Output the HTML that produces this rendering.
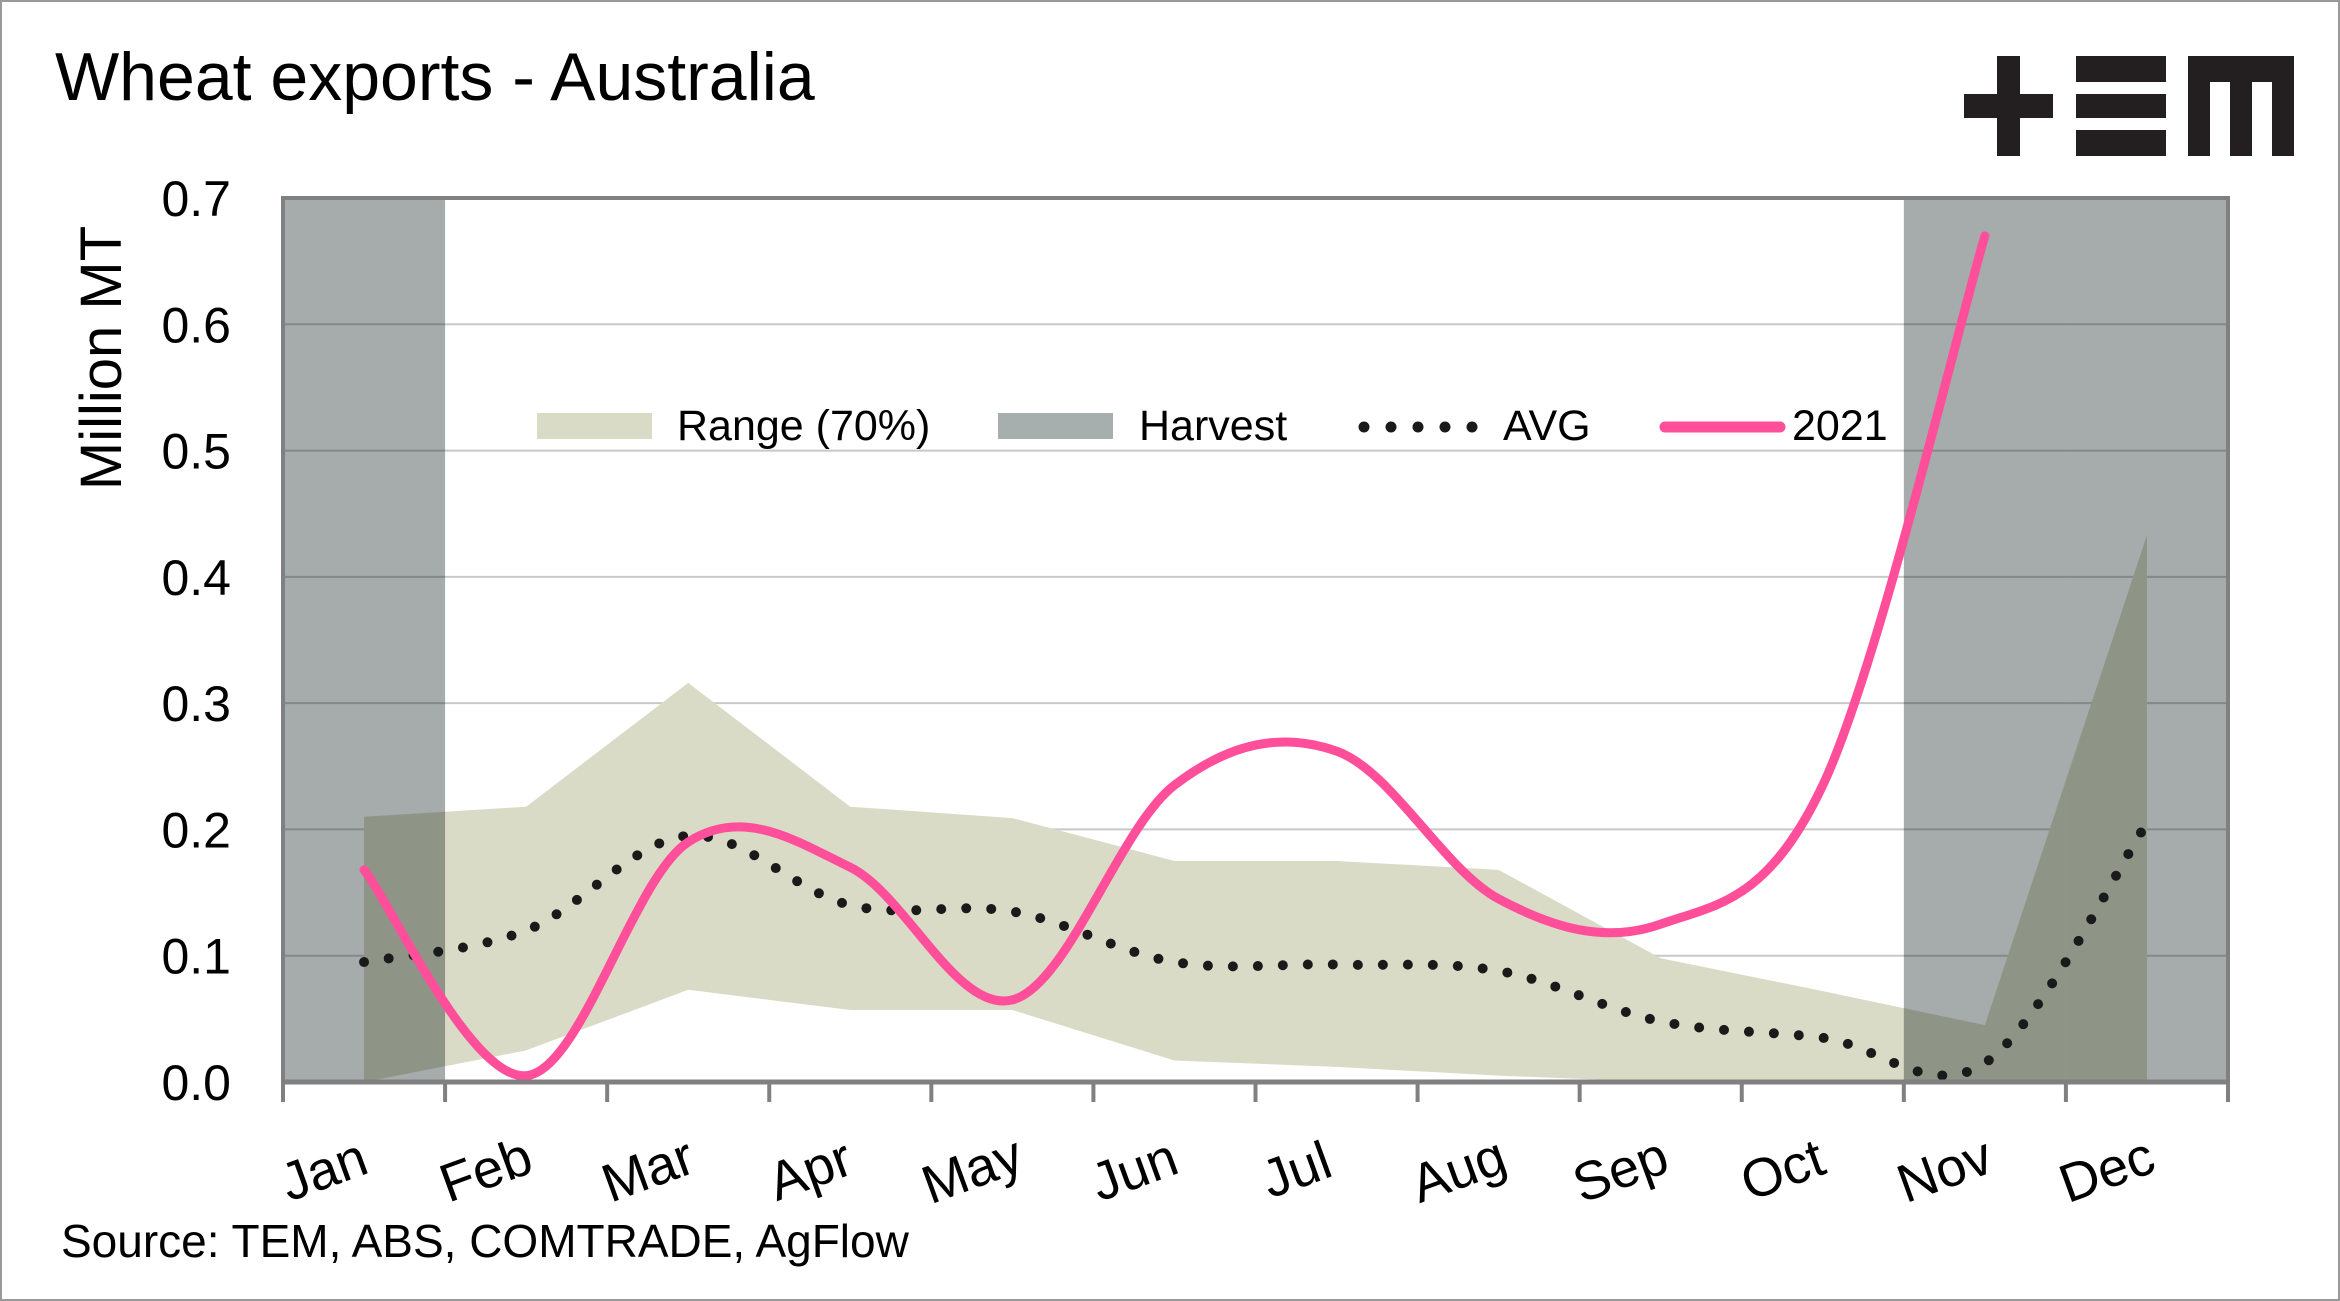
<!DOCTYPE html>
<html><head><meta charset="utf-8"><style>
html,body{margin:0;padding:0;background:#fff}
svg{display:block}
text{font-family:"Liberation Sans",sans-serif;fill:#000}
</style></head><body>
<svg id="chart" width="2340" height="1301" viewBox="0 0 2340 1301">
<rect x="1" y="1" width="2338" height="1299" fill="#fff" stroke="#999" stroke-width="2"/>
<text x="55" y="100" font-size="68">Wheat exports - Australia</text>
<g fill="#231f20">
<rect x="1964" y="94" width="89" height="24"/><rect x="1997" y="56" width="23" height="100"/>
<rect x="2076" y="56" width="90" height="26"/><rect x="2076" y="94" width="90" height="24"/><rect x="2076" y="130" width="90" height="26"/>
<rect x="2188" y="56" width="106" height="26"/><rect x="2188" y="56" width="22" height="100"/><rect x="2230" y="56" width="22" height="100"/><rect x="2272" y="56" width="22" height="100"/>
</g>
<g id="grid"></g>
<g id="range"></g>
<g id="harvest"></g>
<g id="lines"></g>
<g id="axes"></g>
<g id="legend">
<rect x="537" y="413" width="115" height="26" fill="#d9dbc6"/>
<text x="677" y="440" font-size="43">Range (70%)</text>
<rect x="998" y="413" width="115" height="26" fill="#a6aeae"/>
<text x="1139" y="440" font-size="43">Harvest</text>
<g fill="#1a1a1a">
<circle cx="1364" cy="427" r="5.5"/><circle cx="1391" cy="427" r="5.5"/><circle cx="1418" cy="427" r="5.5"/><circle cx="1445" cy="427" r="5.5"/><circle cx="1472" cy="427" r="5.5"/>
</g>
<text x="1503" y="440" font-size="43">AVG</text>
<line x1="1665" y1="427" x2="1780" y2="427" stroke="#ff4f9a" stroke-width="11" stroke-linecap="round"/>
<text x="1792" y="440" font-size="43">2021</text>
</g>
<text transform="translate(121,358) rotate(-90)" text-anchor="middle" font-size="58">Million MT</text>
<text x="61" y="1257" font-size="46">Source: TEM, ABS, COMTRADE, AgFlow</text>
</svg>
<script>
const months=["Jan","Feb","Mar","Apr","May","Jun","Jul","Aug","Sep","Oct","Nov","Dec"];
const yTicks=[0,0.1,0.2,0.3,0.4,0.5,0.6,0.7];
const rangeUpper=[0.21,0.218,0.316,0.218,0.209,0.175,0.175,0.168,0.098,0.072,0.045,0.433];
const rangeLower=[0,0.025,0.073,0.057,0.057,0.017,0.012,0.005,0,0,0,0];
const avg=[0.095,0.12,0.195,0.14,0.135,0.095,0.093,0.088,0.048,0.035,0.015,0.205];
const y2021=[0.168,0.005,0.19,0.17,0.065,0.235,0.262,0.145,0.125,0.235,0.67];
const harvestMonths=[0,10,11];
const L=283,R=2228,T=198,B=1082,YMAX=0.7;
const bw=(R-L)/months.length;
const xs=i=>L+bw*(i+0.5);
const ys=v=>B-(v/YMAX)*(B-T);
const NS="http://www.w3.org/2000/svg";
function mk(tag,parent,attrs){const e=document.createElementNS(NS,tag);for(const k in attrs)e.setAttribute(k,attrs[k]);document.getElementById(parent).appendChild(e);return e;}
function smooth(pts){let d=`M${pts[0][0]},${pts[0][1]}`;for(let i=0;i<pts.length-1;i++){const p0=pts[i-1]||pts[i],p1=pts[i],p2=pts[i+1],p3=pts[i+2]||p2;const t=0.17;d+=` C${p1[0]+(p2[0]-p0[0])*t},${p1[1]+(p2[1]-p0[1])*t} ${p2[0]-(p3[0]-p1[0])*t},${p2[1]-(p3[1]-p1[1])*t} ${p2[0]},${p2[1]}`;}return d;}
yTicks.forEach(v=>{
 if(v>0){const g=mk('line','grid',{x1:L,x2:R,y1:ys(v),y2:ys(v),stroke:'#c8c8c8','stroke-width':2});
 
 }
 const t=mk('text','axes',{x:231,y:ys(v)+18,'text-anchor':'end','font-size':50});t.textContent=v.toFixed(1);
 
 
});
let up=rangeUpper.map((v,i)=>`${xs(i)},${ys(v)}`),lo=rangeLower.map((v,i)=>`${xs(i)},${ys(v)}`).reverse();
const ra=mk('polygon','range',{points:up.concat(lo).join(' '),fill:'#d9dbc6'});


harvestMonths.forEach(i=>{const h=mk('rect','harvest',{x:L+bw*i,y:T,width:bw,height:B-T,fill:'rgba(21,35,35,0.38)'});
 
 });
const a=mk('path','lines',{d:smooth(avg.map((v,i)=>[xs(i),ys(v)])),fill:'none',stroke:'#1a1a1a','stroke-width':10,'stroke-linecap':'round','stroke-dasharray':'0 25'});


const p=mk('path','lines',{d:smooth(y2021.map((v,i)=>[xs(i),ys(v)])),fill:'none',stroke:'#ff4f9a','stroke-width':9,'stroke-linecap':'round'});


const fr=mk('path','axes',{d:`M${L},${B} L${L},${T} L${R},${T} L${R},${B}`,fill:'none',stroke:'#808080','stroke-width':4});


const ax=mk('line','axes',{x1:L-2,x2:R+2,y1:B,y2:B,stroke:'#808080','stroke-width':5});


for(let i=0;i<=months.length;i++){const tk=mk('line','axes',{x1:L+bw*i,x2:L+bw*i,y1:B,y2:B+20,stroke:'#808080','stroke-width':4});
 
 }
months.forEach((m,i)=>{const t=mk('text','axes',{transform:`translate(${xs(i)-34},${1187}) rotate(-20)`,'text-anchor':'middle','font-size':54});t.textContent=m;
 
 });
</script>
</body></html>
